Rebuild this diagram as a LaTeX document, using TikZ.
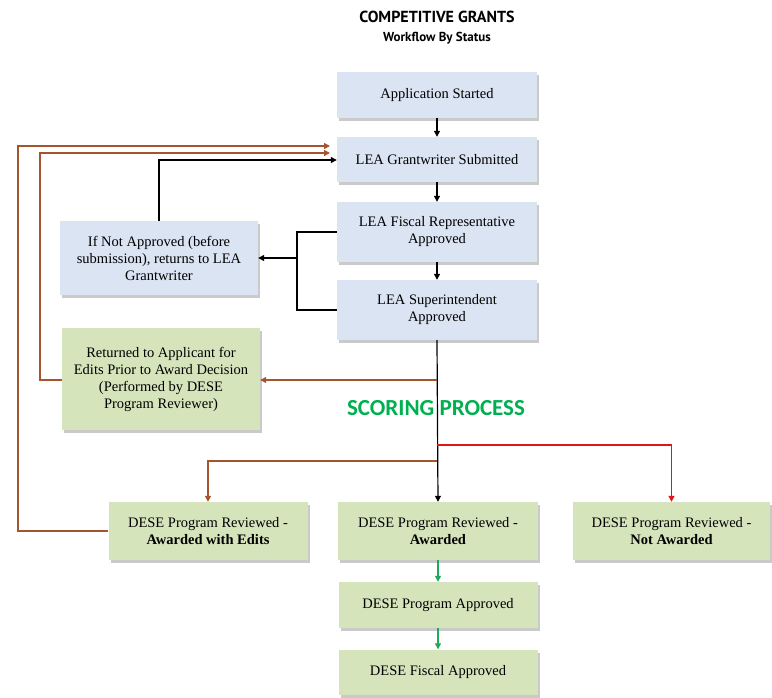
\documentclass[tikz,border=0pt]{standalone}
\usepackage{fontspec}
\setmainfont{Liberation Serif}
\newfontfamily\boxfont{Liberation Serif}
\newfontfamily\titlefont{PT Sans}
\newfontfamily\scorefont{Carlito}
\usetikzlibrary{arrows.meta,shadows}
\definecolor{boxblue}{RGB}{219,228,242}
\definecolor{boxgreen}{RGB}{214,228,188}
\definecolor{brownline}{RGB}{165,85,45}
\definecolor{redline}{RGB}{228,20,20}
\definecolor{greenline}{RGB}{30,170,90}
\definecolor{scoregreen}{RGB}{0,176,80}
\tikzset{
  x=1pt,y=-1pt,
  boxbase/.style={draw=none, minimum width=200pt, align=center, inner sep=2pt,
    font=\boxfont\fontsize{14.5}{17}\selectfont,
    drop shadow={shadow xshift=2pt, shadow yshift=-3pt, fill=black!35, opacity=0.6}},
  bluebox/.style={boxbase, fill=boxblue},
  greenbox/.style={boxbase, fill=boxgreen},
  arr/.style={-{Triangle[width=6pt,length=6pt]}, line width=1.2pt},
  blk/.style={arr, draw=black},
  brn/.style={arr, draw=brownline},
  rd/.style={arr, draw=redline},
  grn/.style={arr, draw=greenline},
  plainline/.style={line width=1.2pt},
}
\begin{document}
\begin{tikzpicture}
\useasboundingbox (0,0) rectangle (772,698);
% titles
\node[font=\titlefont\bfseries\fontsize{16}{18}\selectfont] (title) at (437,17) {COMPETITIVE GRANTS};
\node[font=\titlefont\bfseries\fontsize{13}{15}\selectfont] (subtitle) at (437,38) {Workflow By Status};

% blue boxes
\node[bluebox, minimum height=46pt] (start) at (437,95) {Application Started};
\node[bluebox, minimum height=45pt] (grant) at (437,159.5) {LEA Grantwriter Submitted};
\node[bluebox, minimum height=60pt] (fiscal) at (437,232) {LEA Fiscal Representative\\Approved};
\node[bluebox, minimum height=60pt] (super) at (437,310) {LEA Superintendent\\Approved};
\node[bluebox, minimum width=198pt, minimum height=74pt] (ifnot) at (159,258) {If Not Approved (before\\submission), returns to LEA\\Grantwriter};

% green boxes
\node[greenbox, minimum width=198pt, minimum height=102pt] (returned) at (161,379) {Returned to Applicant for\\Edits Prior to Award Decision\\(Performed by DESE\\Program Reviewer)};
\node[greenbox, minimum width=199pt, minimum height=58pt] (edits) at (208,531) {DESE Program Reviewed -\\\textbf{Awarded with Edits}};
\node[greenbox, minimum height=58pt] (awarded) at (438,531) {DESE Program Reviewed -\\\textbf{Awarded}};
\node[greenbox, minimum width=197pt, minimum height=58pt] (notaw) at (671.5,531) {DESE Program Reviewed -\\\textbf{Not Awarded}};
\node[greenbox, minimum width=199pt, minimum height=46pt] (papproved) at (438,605) {DESE Program Approved};
\node[greenbox, minimum width=199pt, minimum height=45pt] (fapproved) at (438,672) {DESE Fiscal Approved};

% scoring text
\node[font=\scorefont\bfseries\fontsize{23}{26}\selectfont, text=scoregreen] (score) at (436,408) {SCORING PROCESS};

% coordinates
\coordinate (fork) at (297,258);
\coordinate (brsplit) at (437,380);
\coordinate (redsplit) at (437,445);
\coordinate (brnsplit) at (437,461);

% vertical main flow
\draw[blk] (start) -- (grant);
\draw[blk] (grant) -- (fiscal);
\draw[blk] (fiscal) -- (super);
\draw[blk] (super.south) -- (awarded.north);
\draw[grn] (awarded) -- (papproved);
\draw[grn] (papproved) -- (fapproved);

% not approved loop
\draw[plainline] (fiscal.west) -- (297,232) -- (297,310) -- (super.west);
\draw[blk] (fork) -- (ifnot.east);
\draw[blk] (ifnot.north) -- (159,160) -- (grant.west |- 0,160);

% returned to applicant
\draw[brn] (brsplit) -- (returned.east |- brsplit);
\draw[brn] (returned.west |- 0,380) -- (40,380) -- (40,153) -- (330,153);

% awarded with edits
\draw[brn] (brnsplit) -- (208,461) -- (edits.north);
\draw[brn] (edits.west) -- (18,531) -- (18,146) -- (330,146);

% not awarded
\draw[rd] (redsplit) -- (671.5,445) -- (notaw.north);
\end{tikzpicture}
\end{document}
